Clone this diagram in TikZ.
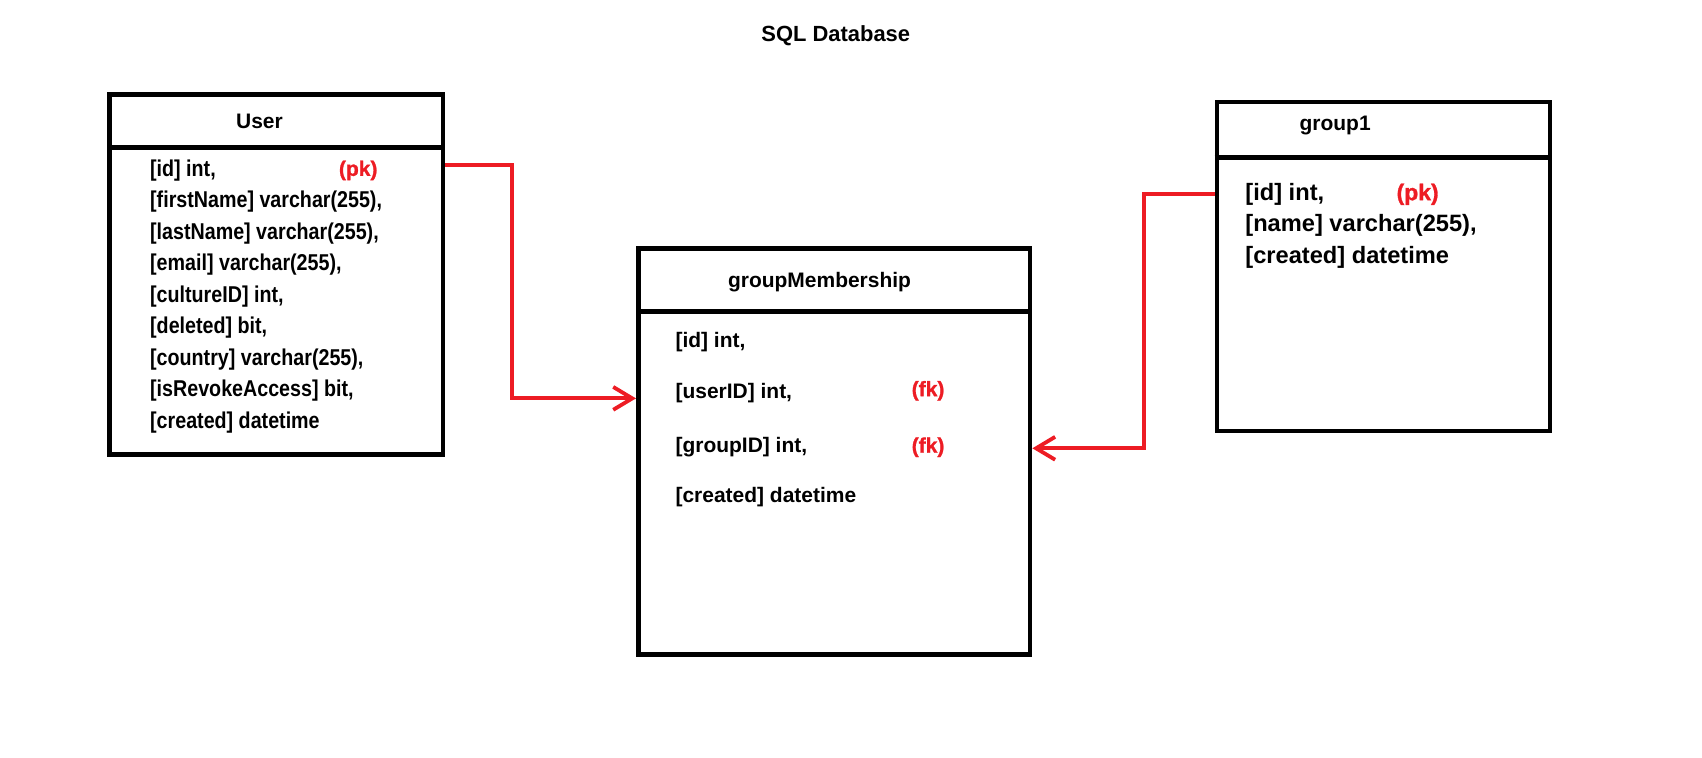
\documentclass[tikz,border=0pt]{standalone}
\usepackage{fontspec}
\setmainfont{Liberation Sans}
\newfontfamily\condfont[FakeStretch=0.86]{Liberation Sans}
\newfontfamily\heavyfont[FakeBold=1.2]{Liberation Sans}
\usetikzlibrary{arrows.meta, positioning}
\definecolor{keyred}{RGB}{237,28,36}

\begin{document}
\begin{tikzpicture}[
    x=0.02cm, y=-0.02cm,
    every node/.style={inner sep=0pt},
    tblbox/.style={draw=black, line width=2.4pt, inner sep=0pt},
    tblline/.style={draw=black, line width=2.4pt},
    tbltitle/.style={font=\bfseries\fontsize{11}{13}\selectfont},
    colrow/.style={anchor=west, font=\bfseries\fontsize{11}{13}\selectfont},
    keytag/.style={text=keyred, font=\heavyfont\bfseries\fontsize{11}{13}\selectfont},
    relarrow/.style={draw=keyred, line width=2pt, -{Straight Barb[length=10pt, width=12pt]}}
]
\useasboundingbox (0,0) rectangle (1568,698);

% Title
\node[font=\bfseries\fontsize{11.5}{14}\selectfont] (dbtitle) at (770,33) {SQL Database};

% User table
\node[tblbox, minimum width=6.14cm, minimum height=6.64cm] (user) at (254.5,253) {};
\draw[tblline] (user.west |- 0,136) -- (user.east |- 0,136);
\node[tbltitle] (usertitle) at (239,112) {User};
\foreach \txt [count=\i] in {{[id] int,}, {[firstName] varchar(255),}, {[lastName] varchar(255),},
                             {[email] varchar(255),}, {[cultureID] int,}, {[deleted] bit,},
                             {[country] varchar(255),}, {[isRevokeAccess] bit,}, {[created] datetime}}
    \node[colrow, font=\condfont\bfseries\fontsize{12}{14}\selectfont] (u\i) at (138,128+29*\i) {\txt};
\node[keytag] (userpk) at (330,157) {(pk)};

% groupMembership table
\node[tblbox, minimum width=7.22cm, minimum height=7.48cm] (gm) at (768.5,416) {};
\draw[tblline] (gm.west |- 0,287) -- (gm.east |- 0,287);
\node[tbltitle] (gmtitle) at (755,260) {groupMembership};
\node[colrow] (gm1) at (622,315) {[id] int,};
\node[colrow] (gm2) at (622,362) {[userID] int,};
\node[colrow] (gm3) at (622,412) {[groupID] int,};
\node[colrow] (gm4) at (622,458) {[created] datetime};
\node[keytag] (gmfk1) at (855,360) {(fk)};
\node[keytag] (gmfk2) at (855,412) {(fk)};

% group1 table
\node[tblbox, minimum width=6.14cm, minimum height=6.06cm] (grp) at (1274.5,245.5) {};
\draw[tblline] (grp.west |- 0,145) -- (grp.east |- 0,145);
\node[tbltitle] (grptitle) at (1230,116) {group1};
\foreach \txt [count=\i] in {{[id] int,}, {[name] varchar(255),}, {[created] datetime}}
    \node[colrow, font=\bfseries\fontsize{12.4}{15}\selectfont] (g\i) at (1147,150+29*\i) {\txt};
\node[keytag, font=\heavyfont\bfseries\fontsize{12}{15}\selectfont] (grppk) at (1306,179) {(pk)};

% Relations
\coordinate (ubend) at (472,152);
\coordinate (gbend) at (1054,179);
\draw[relarrow] (user.east |- ubend) -- (ubend) |- (gm.west |- 0,367);
\draw[relarrow] (grp.west |- gbend) -- (gbend) |- (gm.east |- 0,413);

\end{tikzpicture}
\end{document}
